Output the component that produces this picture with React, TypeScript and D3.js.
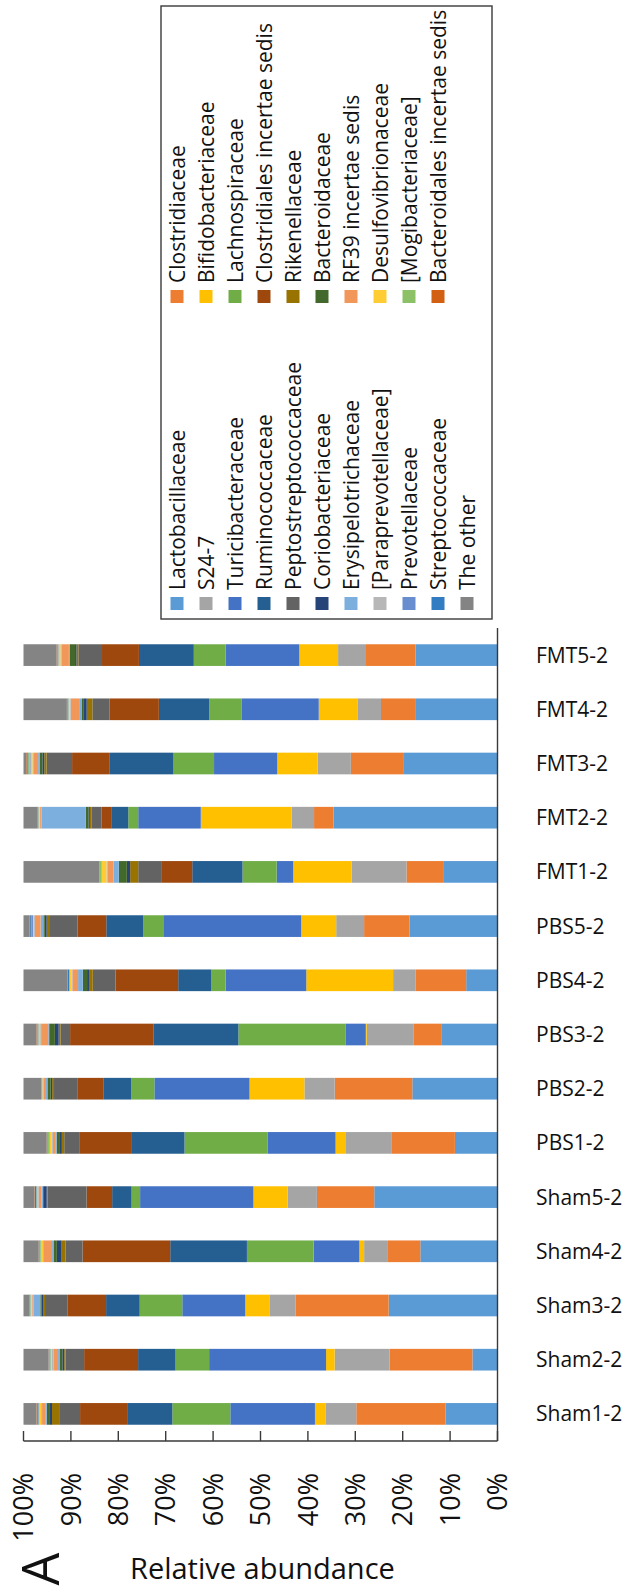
import React from "react";
import * as d3 from "d3";

const samples = [
  "Sham1-2", "Sham2-2", "Sham3-2", "Sham4-2", "Sham5-2",
  "PBS1-2", "PBS2-2", "PBS3-2", "PBS4-2", "PBS5-2",
  "FMT1-2", "FMT2-2", "FMT3-2", "FMT4-2", "FMT5-2",
];

const families = [
  "Lactobacillaceae", "Clostridiaceae", "S24-7", "Bifidobacteriaceae",
  "Turicibacteraceae", "Lachnospiraceae", "Ruminococcaceae",
  "Clostridiales incertae sedis", "Peptostreptococcaceae", "Rikenellaceae",
  "Coriobacteriaceae", "Bacteroidaceae", "Erysipelotrichaceae",
  "RF39 incertae sedis", "[Paraprevotellaceae]", "Desulfovibrionaceae",
  "Prevotellaceae", "[Mogibacteriaceae]", "Streptococcaceae",
  "Bacteroidales incertae sedis", "The other",
];

const colors = [
  "#5B9BD5", "#ED7D31", "#A5A5A5", "#FFC000", "#4472C4", "#70AD47",
  "#255E91", "#9E480E", "#636363", "#997300", "#264478", "#43682B",
  "#7CAFDD", "#F1975A", "#B7B7B7", "#FFCD33", "#698ED0", "#8CC168",
  "#327DC2", "#D26012", "#848484",
];

// values in %, in the order of `families`
const sham1 = [10.9, 18.8, 6.5, 2.2, 17.8, 12.2, 9.5, 9.9, 4.4, 1.5, 0.6, 0.5, 0.2, 0.8, 0.2, 0.4, 0.2, 0.1, 0.2, 0.1, 2.7];
const sham2 = [5.3, 17.5, 11.6, 1.8, 24.7, 7.1, 7.9, 11.4, 3.9, 0.3, 0.4, 0.5, 0.4, 1.0, 0.3, 0.2, 0.1, 0.3, 0.05, 0.05, 5.3];
const sham3 = [23.0, 19.7, 5.5, 5.1, 13.3, 9.0, 7.1, 8.2, 4.7, 0.3, 0.4, 0.3, 1.4, 0.3, 0.1, 0.2, 0.05, 0.1, 0.05, 0.05, 1.3];
const sham4 = [16.2, 6.8, 5.0, 1.0, 9.6, 14.0, 16.1, 18.4, 3.6, 0.8, 1.0, 0.6, 0.4, 1.7, 0.2, 0.4, 0.1, 0.2, 0.1, 0.1, 3.2];
const sham5 = [26.0, 12.1, 6.2, 7.2, 23.9, 1.8, 4.1, 5.4, 8.2, 0.2, 0.6, 0.2, 0.3, 0.6, 0.2, 0.1, 0.1, 0.1, 0.3, 0.1, 2.3];
const pbs1 = [9.0, 13.3, 9.7, 2.2, 14.3, 17.6, 11.1, 11.0, 3.3, 0.5, 0.4, 0.7, 0.3, 0.5, 0.3, 0.3, 0.1, 0.4, 0.1, 0.1, 4.9];
const pbs2 = [18.0, 16.4, 6.4, 11.6, 20.1, 4.9, 5.9, 5.5, 4.9, 0.4, 0.3, 0.7, 0.3, 0.5, 0.2, 0.1, 0.05, 0.1, 0.05, 0.05, 3.7];
const pbs3 = [11.7, 5.9, 9.9, 0.2, 4.3, 22.5, 17.8, 17.6, 2.0, 0.4, 0.8, 1.2, 0.2, 1.5, 0.2, 0.3, 0.1, 0.2, 0.1, 0.1, 2.7];
const pbs4 = [6.6, 10.7, 4.7, 18.3, 17.0, 3.0, 7.0, 13.2, 4.8, 0.8, 0.4, 0.9, 1.0, 1.2, 0.2, 0.3, 0.1, 0.1, 0.3, 0.1, 9.2];
const pbs5 = [18.6, 9.6, 5.9, 7.4, 29.0, 4.4, 7.8, 6.1, 5.8, 0.7, 0.4, 0.3, 0.6, 1.2, 0.2, 0.2, 0.2, 0.1, 0.3, 0.1, 1.3];
const fmt1 = [11.3, 7.9, 11.6, 12.3, 3.5, 7.2, 10.6, 6.4, 5.0, 1.7, 0.7, 1.7, 1.1, 1.3, 0.2, 1.0, 0.1, 0.3, 0.05, 0.05, 16.0];
const fmt2 = [34.6, 4.1, 4.7, 19.2, 13.2, 2.1, 3.6, 2.0, 2.1, 0.4, 0.3, 0.6, 9.3, 0.3, 0.1, 0.2, 0.05, 0.05, 0.05, 0.05, 3.0];
const fmt3 = [20.0, 11.1, 7.0, 8.6, 13.4, 8.6, 13.5, 8.0, 5.4, 0.5, 0.4, 0.6, 0.3, 0.9, 0.3, 0.4, 0.2, 0.3, 0.1, 0.3, 0.6];
const fmt4 = [17.3, 7.4, 4.9, 8.3, 16.3, 6.9, 10.7, 10.5, 3.6, 1.2, 0.6, 0.4, 0.6, 1.8, 0.2, 0.2, 0.1, 0.1, 0.1, 0.1, 9.2];
const fmt5 = [17.3, 10.5, 5.9, 8.2, 15.6, 6.7, 11.6, 7.8, 5.0, 0.4, 0.3, 1.1, 0.2, 1.5, 0.3, 0.4, 0.1, 0.1, 0.1, 0.1, 7.0];

const sampleValues = [sham1, sham2, sham3, sham4, sham5, pbs1, pbs2, pbs3, pbs4, pbs5, fmt1, fmt2, fmt3, fmt4, fmt5];

const tickValues = [0, 0.1, 0.2, 0.3, 0.4, 0.5, 0.6, 0.7, 0.8, 0.9, 1.0];

const FONT = "'Open Sans', 'Noto Sans', sans-serif";

export default function App() {
  const W = 635;
  const H = 1591;

  const rows = samples.map((s, i) => {
    const r: any = { sample: s };
    families.forEach((f, j) => (r[f] = sampleValues[i][j]));
    return r;
  });

  const stacked = d3.stack<any>().keys(families).offset(d3.stackOffsetExpand)(rows);

  const axisX = 497.5;
  const axisY = 1441;
  const x = d3.scaleLinear().domain([0, 1]).range([axisX, 23.5]);
  const y = d3
    .scaleBand<string>()
    .domain(samples)
    .range([axisY, 628])
    .paddingInner(0.6)
    .paddingOuter(0.3);

  const color = d3.scaleOrdinal<string, string>().domain(families).range(colors);

  const legendX0 = 177;
  const legendStep = 29;
  const sq = 13;

  return (
    <svg
      width={W}
      height={H}
      style={{ position: "absolute", left: 0, top: 0, background: "#fff" }}
      fontFamily={FONT}
    >
      {/* bars */}
      {stacked.map((layer) => (
        <g key={layer.key} fill={color(layer.key)}>
          {layer.map((d: any, i: number) => (
            <rect
              key={i}
              x={x(d[1])}
              y={y(d.data.sample)}
              width={Math.max(0, x(d[0]) - x(d[1]))}
              height={y.bandwidth()}
            />
          ))}
        </g>
      ))}

      {/* category axis (right) */}
      <line x1={axisX} x2={axisX} y1={628} y2={axisY} stroke="#3a3a3a" strokeWidth={1.4} />
      {samples.map((s) => (
        <text
          key={s}
          x={536}
          y={(y(s) as number) + y.bandwidth() / 2}
          dy="0.36em"
          fontSize={21}
          fill="#111"
        >
          {s}
        </text>
      ))}

      {/* value axis (bottom) */}
      <line x1={x(1)} x2={axisX} y1={axisY} y2={axisY} stroke="#3a3a3a" strokeWidth={1.4} />
      {tickValues.map((t) => (
        <g key={t}>
          <line x1={x(t)} x2={x(t)} y1={axisY - 10} y2={axisY} stroke="#3a3a3a" strokeWidth={1.4} />
          <text
            transform={`translate(${x(t)},${1473}) rotate(-90)`}
            dy="0.36em"
            textAnchor="end"
            fontSize={27}
            fill="#111"
          >
            {d3.format(".0%")(t)}
          </text>
        </g>
      ))}

      <text x={130} y={1579} fontSize={29} fill="#111">
        Relative abundance
      </text>
      <text
        transform={`translate(40,1569) rotate(-90)`}
        dy="0.36em"
        textAnchor="middle"
        fontSize={52}
        fill="#111"
      >
        A
      </text>

      {/* legend */}
      <rect x={161} y={6} width={331} height={613} fill="none" stroke="#3a3a3a" strokeWidth={1.4} />
      {families.map((f, i) => {
        const col = Math.floor(i / 2);
        const lower = i % 2 === 0;
        const cx = legendX0 + col * legendStep;
        const sqTop = lower ? 597 : 290;
        return (
          <g key={f}>
            <rect x={cx - sq / 2} y={sqTop} width={sq} height={sq} fill={color(f)} />
            <text
              transform={`translate(${cx},${sqTop - 7}) rotate(-90)`}
              dy="0.36em"
              fontSize={21}
              fill="#111"
            >
              {f}
            </text>
          </g>
        );
      })}
    </svg>
  );
}
